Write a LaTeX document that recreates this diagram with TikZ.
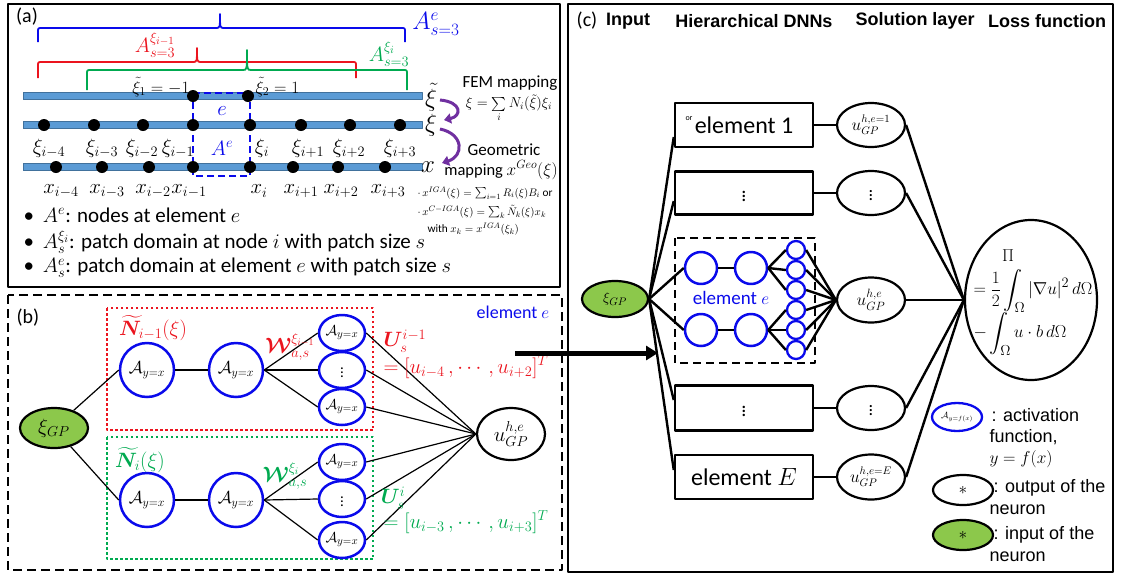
\documentclass[tikz,border=0pt]{standalone}
\usepackage{amsmath,amssymb,bm}
\usepackage[no-math]{fontspec}
\setmainfont{Carlito}
\newfontfamily\arialf{Liberation Sans}
\usetikzlibrary{shapes.geometric,arrows.meta}
\newcommand\fsz[1]{\fontsize{#1}{#1}\selectfont}
\definecolor{cblue}{RGB}{10,10,235}
\definecolor{cred}{RGB}{235,20,30}
\definecolor{cgreen}{RGB}{0,170,80}
\definecolor{cgfill}{RGB}{140,200,75}
\definecolor{cbar}{RGB}{91,155,213}
\definecolor{cbarb}{RGB}{65,113,156}
\definecolor{cpurp}{RGB}{112,48,160}
\tikzset{
  dotn/.style={circle,fill=black,inner sep=0,minimum size=12},
  bar/.style={fill=cbar,draw=cbarb,line width=0.8},
  brk/.style={line width=1.8},
  neur/.style={circle,draw=cblue,line width=2.5,minimum size=54,inner sep=0,font=\fsz{17}},
  neurs/.style={ellipse,draw=cblue,line width=2.5,minimum width=46,minimum height=36,inner sep=0,font=\fsz{15}},
  outell/.style={ellipse,draw=black,line width=2.2,inner sep=0},
  inell/.style={ellipse,draw=black,fill=cgfill,line width=2.2,inner sep=0},
  nl/.style={line width=1.2},
  cl/.style={line width=2.4},
  ebox/.style={draw,line width=2.5,minimum width=138,minimum height=44,inner sep=0,font=\fsz{24}},
  cn/.style={circle,draw=cblue,line width=2.5,minimum size=32,inner sep=0},
  cs/.style={circle,draw=cblue,line width=2.3,minimum size=18,inner sep=0},
  hdr/.style={font=\arialf\bfseries\fsz{18}},
  leg/.style={font=\arialf\fsz{18},anchor=west},
}
\begin{document}
\begin{tikzpicture}[x=1pt,y=-1pt,line join=round]
\useasboundingbox (0,0) rectangle (1121,576);
% ---------- panel frames
\draw[line width=2.5] (8,4) rectangle (560,287);
\draw[line width=2.5,dash pattern=on 9pt off 5pt] (8,295) rectangle (562,570);
\draw[line width=2.5] (568,4) rectangle (1113,572);
% ================= panel (a)
\node (la) at (27,17) {\fsz{20}(a)};
% brackets
\draw[brk,cblue] (38,42) -- (38,32) .. controls (38,28) .. (42,28) -- (216,28) .. controls (220,28) .. (220,14) .. controls (220,28) .. (224,28) -- (401,28) .. controls (405,28) .. (405,32) -- (405,42);
\draw[brk,cred] (38,78) -- (38,66) .. controls (38,62) .. (42,62) -- (193,62) .. controls (197,62) .. (197,48) .. controls (197,62) .. (201,62) -- (352,62) .. controls (356,62) .. (356,66) -- (356,78);
\draw[brk,cgreen] (87,90) -- (87,74) .. controls (87,70) .. (91,70) -- (243,70) .. controls (247,70) .. (247,50) .. controls (247,70) .. (251,70) -- (403,70) .. controls (407,70) .. (407,74) -- (407,90);
\node[text=cblue] (lae) at (436,24) {\fsz{25}$A^{e}_{s=3}$};
\node[text=cred] (lar) at (155,45) {\fsz{21}$A^{\xi_{i-1}}_{s=3}$};
\node[text=cgreen] (lag) at (389,54) {\fsz{21}$A^{\xi_{i}}_{s=3}$};
% bars
\draw[bar] (23,92.5) rectangle (422,99.5);
\draw[bar] (23,121.5) rectangle (422,128.5);
\draw[bar] (23,163.5) rectangle (422,170.5);
% element dashed box
\draw[cblue,line width=2.5,dash pattern=on 7pt off 4pt] (193,93) -- (250,93) -- (250,176) -- (193,176) -- cycle;
% dots
\node[dotn] (t1) at (193,96) {};
\node[dotn] (t2) at (248,96) {};
\foreach \n/\x in {1/44,2/94,3/143,4/193,5/250,6/301,7/350,8/400}{\node[dotn] (m\n) at (\x,125) {};}
\foreach \n/\x in {1/56,2/102,3/149,4/193,5/250,6/293,7/338,8/385}{\node[dotn] (b\n) at (\x,167) {};}
\node[anchor=east] (xt1) at (193,87) {\fsz{18}$\tilde\xi_1=-1$};
\node[anchor=west] (xt2) at (252,87) {\fsz{18}$\tilde\xi_2=1$};
\node[text=cblue] (le) at (222,111) {\fsz{20}$e$};
\node[text=cblue] (lAe) at (222,148) {\fsz{20}$A^{e}$};
\foreach \x/\s in {49/{i-4},102/{i-3},142/{i-2},178/{i-1},262/{i},308/{i+1},349/{i+2},400/{i+3}}{\node at (\x,148) {\fsz{20}$\xi_{\s}$};}
\foreach \x/\s in {61/{i-4},107/{i-3},153/{i-2},189/{i-1},259/{i},301/{i+1},341/{i+2},388/{i+3}}{\node at (\x,191) {\fsz{20}$x_{\s}$};}
\node (bxt) at (431,97) {\fsz{28}$\tilde\xi$};
\node (bx) at (431,125) {\fsz{28}$\xi$};
\node (bxx) at (428,167) {\fsz{28}$x$};
\draw[cpurp,line width=3,-{Triangle[length=7pt,width=10pt]}] (440,100) .. controls (462,102) and (462,116) .. (444,120);
\draw[cpurp,line width=3,-{Triangle[length=7pt,width=10pt]}] (440,129) .. controls (464,134) and (464,156) .. (442,163);
\node (fem) at (510,83) {\fsz{17}FEM mapping};
\node (femf) at (509,108) {\fsz{14}$\xi=\sum\limits_{i} N_i(\tilde\xi)\xi_i$};
\node (geo1) at (504,150) {\fsz{17}Geometric};
\node (geo2) at (501,170) {\fsz{16.5}mapping $x^{Geo}(\xi)$};
\node[anchor=west] (s1) at (414,193) {\fsz{11.3}$\cdot\, x^{IGA}(\xi)=\sum_{i=1}R_i(\xi)B_i$ or};
\node[anchor=west] (s2) at (414,212) {\fsz{11.3}$\cdot\, x^{C-IGA}(\xi)=\sum_{k}\tilde N_k(\xi)x_k$};
\node[anchor=west] (s3) at (424,229) {\fsz{11.3}with $x_k=x^{IGA}(\xi_k)$};
\node[anchor=west] (bl1) at (20,215) {\fsz{21}•\hspace{9pt}$A^e$: nodes at element $e$};
\node[anchor=west] (bl2) at (20,242) {\fsz{21}•\hspace{9pt}$A^{\xi_i}_s$: patch domain at node $i$ with patch size $s$};
\node[anchor=west] (bl3) at (20,268) {\fsz{21}•\hspace{9pt}$A^{e}_s$: patch domain at element $e$ with patch size $s$};
% ================= panel (b)
\node (lb) at (28,318) {\fsz{20}(b)};
\draw[cred,line width=2.5,dash pattern=on 2.5pt off 2.5pt] (107,308) rectangle (373,430);
\draw[cgreen,line width=2.5,dash pattern=on 2.5pt off 2.5pt] (107,437) rectangle (373,559);
\node[text=cred] (nr) at (153,328) {\fsz{20}$\widetilde{\bm N}_{i-1}(\xi)$};
\node[text=cgreen] (ng) at (140,460) {\fsz{20}$\widetilde{\bm N}_{i}(\xi)$};
\node[inell,minimum width=68,minimum height=40] (gp) at (54,428) {\fsz{20}$\xi_{GP}$};
\node[neur] (b11) at (147,370) {$\mathcal{A}_{y=x}$};
\node[neur] (b12) at (236,370) {$\mathcal{A}_{y=x}$};
\node[neur] (b21) at (147,500) {$\mathcal{A}_{y=x}$};
\node[neur] (b22) at (236,500) {$\mathcal{A}_{y=x}$};
\node[neurs] (r1) at (342,333) {$\mathcal{A}_{y=x}$};
\node[neurs] (r2) at (342,370) {$\vdots$};
\node[neurs] (r3) at (342,407) {$\mathcal{A}_{y=x}$};
\node[neurs] (g1) at (342,462) {$\mathcal{A}_{y=x}$};
\node[neurs] (g2) at (342,499) {$\vdots$};
\node[neurs] (g3) at (342,540) {$\mathcal{A}_{y=x}$};
\node[outell,minimum width=68,minimum height=52] (ub) at (511,434) {\fsz{20}$u^{h,e}_{GP}$};
\draw[nl] (gp) -- (b11.west);
\draw[nl] (gp) -- (b21.west);
\draw[nl] (b11) -- (b12);
\draw[nl] (b21) -- (b22);
\foreach \t in {r1,r2,r3}{\draw[nl] (b12.east) -- (\t.west); \draw[nl] (\t.east) -- (ub.west);}
\foreach \t in {g1,g2,g3}{\draw[nl] (b22.east) -- (\t.west); \draw[nl] (\t.east) -- (ub.west);}
\node[text=cred] (wr) at (290,347) {\fsz{20}$\bm{\mathcal{W}}^{\xi_{i-1}}_{a,s}$};
\node[text=cgreen] (wg) at (285,476) {\fsz{20}$\bm{\mathcal{W}}^{\xi_{i}}_{a,s}$};
\node[text=cred] (ur) at (405,341) {\fsz{20}$\bm U^{i-1}_s$};
\node[text=cred] (urv) at (466,367) {\fsz{20}$=[u_{i-4}\,,\cdots,u_{i+2}]^T$};
\node[text=cgreen] (ug) at (393,498) {\fsz{20}$\bm U^{i}_s$};
\node[text=cgreen] (ugv) at (466,522) {\fsz{20}$=[u_{i-3}\,,\cdots,u_{i+3}]^T$};
\node[text=cblue] (lel) at (513,312) {\fsz{18}element $e$};
\coordinate (arS) at (515,353);
\coordinate (arE) at (658,353);
\draw[line width=5,-{Triangle[length=12pt,width=14pt]}] (arS) -- (arE);
% ================= panel (c)
\node (lc) at (587,21) {\fsz{20}(c)};
\node[hdr] (h1) at (628,21) {Input};
\node[hdr] (h2) at (754,21) {Hierarchical DNNs};
\node[hdr] (h3) at (915,21) {Solution layer};
\node[hdr] (h4) at (1047,21) {Loss function};
\node[inell,minimum width=66,minimum height=36] (inp) at (615,299) {\fsz{15}$\xi_{GP}$};
\node[ebox] (c1) at (744,125) {element 1};
\node (orr) at (689,119) {\fsz{8}or};
\node[ebox,minimum height=43] (c2) at (744,193) {\fsz{20}$\vdots$};
\draw[line width=2.5,dash pattern=on 8pt off 5pt] (675,238) rectangle (815,363);
\node[ebox,minimum height=45] (c4) at (744,408) {\fsz{20}$\vdots$};
\node[ebox] (c5) at (744,477) {element $E$};
\node[cn] (n11) at (701,268) {};
\node[cn] (n12) at (751,268) {};
\node[cn] (n21) at (701,330) {};
\node[cn] (n22) at (751,330) {};
\foreach \i/\y in {1/250,2/270,3/290,4/310,5/330,6/350}{\node[cs] (s\i) at (796,\y) {};}
\node[text=cblue] (lce) at (731,298) {\fsz{19}element $e$};
\node[outell,minimum width=68,minimum height=44] (o1) at (871,125) {\fsz{16}$u^{h,e=1}_{GP}$};
\node[outell,minimum width=68,minimum height=44] (o2) at (871,193) {\fsz{18}$\vdots$};
\node[outell,minimum width=68,minimum height=45] (o3) at (871,300) {\fsz{17}$u^{h,e}_{GP}$};
\node[outell,minimum width=68,minimum height=44] (o4) at (871,408) {\fsz{18}$\vdots$};
\node[outell,minimum width=68,minimum height=45] (o5) at (871,477) {\fsz{16}$u^{h,e=E}_{GP}$};
\node[outell,minimum width=132,minimum height=160] (loss) at (1031,300) {};
\node (lpi) at (1008,256) {\fsz{19}$\Pi$};
\node[anchor=west] (l1) at (970,291) {\fsz{19}$=\dfrac{1}{2}\displaystyle\int_\Omega |\nabla u|^2\,d\Omega$};
\node[anchor=west] (l2) at (970,334) {\fsz{19}$-\displaystyle\int_\Omega u\cdot b\,d\Omega$};
% connections (c)
\draw[cl] (inp.east) -- ([yshift=-12pt]c1.west);
\draw[cl] (inp.east) -- ([yshift=-8pt]c2.west);
\draw[cl] (inp.east) -- ([yshift=8pt]c4.west);
\draw[cl] (inp.east) -- ([yshift=7pt]c5.west);
\draw[cl] (inp.east) -- (n11.west);
\draw[cl] (inp.east) -- (n21.west);
\draw[cl] (n11) -- (n12);
\draw[cl] (n21) -- (n22);
\foreach \t in {s1,s2,s3}{\draw[cl] (n12.east) -- (\t.west);}
\foreach \t in {s4,s5,s6}{\draw[cl] (n22.east) -- (\t.west);}
\foreach \t in {s1,s2,s3,s4,s5,s6}{\draw[cl] (\t.east) -- (o3.west);}
\draw[cl] (c1) -- (o1);
\draw[cl] (c2) -- (o2);
\draw[cl] (c4) -- (o4);
\draw[cl] (c5) -- (o5);
\foreach \t in {o1,o2,o3,o4,o5}{\draw[cl] (\t.east) -- (loss.west);}
% legend
\node[ellipse,draw=cblue,line width=2.3,minimum width=50,minimum height=28,inner sep=0] (lg1) at (957,417) {\fsz{9}$\mathcal{A}_{y=f(x)}$};
\node[outell,minimum width=60,minimum height=30] (lg2) at (963,490) {\fsz{16}$*$};
\node[inell,minimum width=60,minimum height=30] (lg3) at (963,535) {\fsz{16}$*$};
\node[leg] (t1a) at (988,415) {: activation};
\node[leg] (t1b) at (986,437) {function,};
\node[leg] (t1c) at (986,459) {\fsz{19}$y=f(x)$};
\node[leg] (t2a) at (990,488) {: output of the};
\node[leg] (t2b) at (986,510) {neuron};
\node[leg] (t3a) at (990,535) {: input of the};
\node[leg] (t3b) at (986,557) {neuron};
\end{tikzpicture}
\end{document}
